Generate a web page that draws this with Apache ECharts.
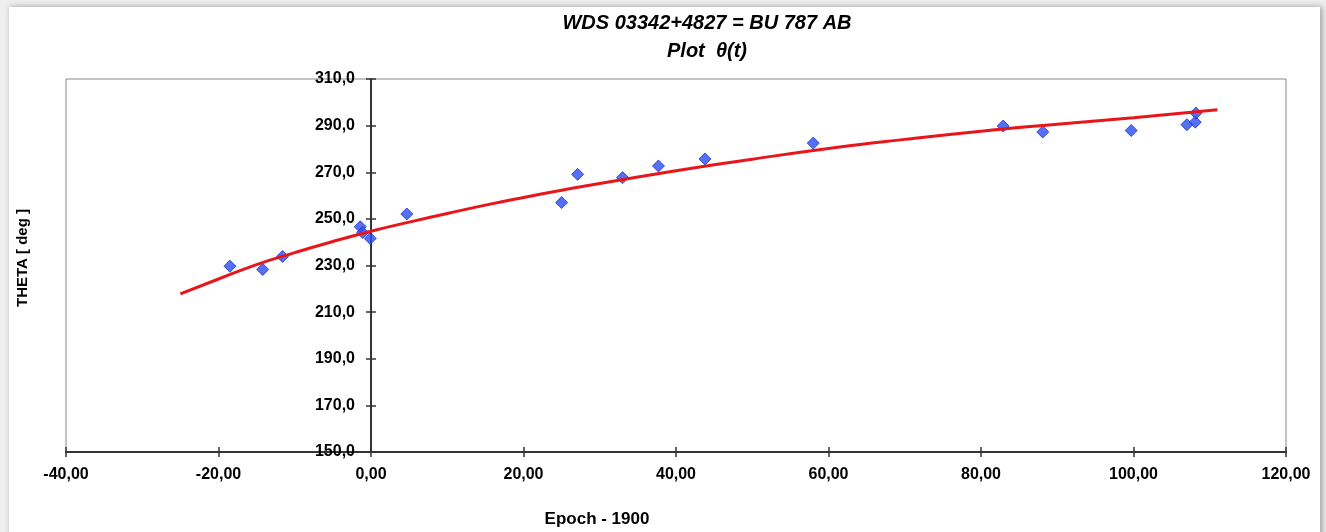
<!DOCTYPE html>
<html>
<head>
<meta charset="utf-8">
<script src="https://cdn.jsdelivr.net/npm/echarts@6/dist/echarts.min.js"></script>
<style>
  html, body { margin: 0; padding: 0; background: #fff; }
  #main { width: 1326px; height: 532px; }
</style>
</head>
<body>
<div id="main"></div>
<script>
// observed position angles (epoch - 1900, theta in deg)
const obsEpoch = [-18.5, -14.2, -11.6, -1.4, -1.1, -0.1, 4.7, 25.0, 27.1, 33.0, 37.7, 43.8, 58.0, 82.9, 88.1, 99.7, 107.0, 108.1, 108.2];
const obsTheta = [229.7, 228.3, 233.9, 246.6, 244.2, 241.6, 252.1, 257.0, 269.1, 267.7, 272.7, 275.7, 282.5, 289.8, 287.3, 287.9, 290.4, 291.5, 295.4];

// orbit curve
const fitEpoch = [-25, -20, -15, -10, -5, 0, 5, 10, 15, 20, 25, 30, 40, 50, 60, 70, 80, 90, 100, 111];
const fitTheta = [217.8, 224.2, 230.4, 235.5, 240.3, 244.7, 248.6, 252.3, 255.9, 259.2, 262.3, 265.2, 270.6, 275.6, 280.2, 284.1, 287.6, 290.6, 293.4, 296.8];

// axis ticks
const xTicks = [-40, -20, 0, 20, 40, 60, 80, 100, 120];
const yTicks = [150, 170, 190, 210, 230, 250, 270, 290, 310];

const chart = echarts.init(document.getElementById('main'));

const obsData = obsEpoch.map((x, i) => [x, obsTheta[i]]);
const fitData = fitEpoch.map((x, i) => [x, fitTheta[i]]);

const font = '"Liberation Sans", Arial, sans-serif';
const axisColor = '#333';

function xAxisBase() {
    return {
        type: 'value',
        min: xTicks[0],
        max: xTicks[xTicks.length - 1],
        interval: xTicks[1] - xTicks[0],
        splitLine: { show: false }
    };
}
function yAxisBase() {
    return {
        type: 'value',
        min: yTicks[0],
        max: yTicks[yTicks.length - 1],
        interval: yTicks[1] - yTicks[0],
        splitLine: { show: false }
    };
}

chart.setOption({
    backgroundColor: '#eeeeee',
    animation: false,
    graphic: [{
        type: 'rect',
        z: -10,
        shape: { x: 9, y: 7, width: 1311, height: 600 },
        style: { fill: '#fff', shadowBlur: 6, shadowOffsetX: 2, shadowColor: 'rgba(0,0,0,0.35)' }
    }],
    title: {
        text: 'WDS 03342+4827 = BU 787 AB\nPlot  θ(t)',
        left: 707,
        top: 9,
        padding: 0,
        textAlign: 'center',
        textStyle: {
            fontFamily: font,
            fontSize: 20,
            fontWeight: 'bold',
            fontStyle: 'italic',
            color: '#000',
            lineHeight: 28
        }
    },
    grid: {
        left: 66,
        right: 40,
        top: 79,
        bottom: 80,
        containLabel: false,
        outerBoundsMode: 'none',
        show: true,
        borderColor: '#888',
        borderWidth: 1,
        backgroundColor: 'transparent'
    },
    xAxis: [
        Object.assign(xAxisBase(), {
            position: 'bottom',
            name: 'Epoch - 1900',
            nameLocation: 'middle',
            nameGap: 59,
            nameTextStyle: {
                fontFamily: font, fontSize: 17, fontWeight: 'bold', color: '#000',
                padding: [0, 158, 0, 0]
            },
            axisLine: { lineStyle: { color: axisColor, width: 2 } },
            axisTick: { length: 5, lineStyle: { color: axisColor, width: 1.5 } },
            axisLabel: {
                margin: 15,
                fontFamily: font, fontSize: 16, fontWeight: 'bold', color: '#000',
                formatter: v => v.toFixed(2).replace('.', ',')
            }
        }),
        // second copy only to draw the inner half of the crossing ticks
        Object.assign(xAxisBase(), {
            position: 'bottom',
            axisLine: { show: false },
            axisTick: { inside: true, length: 5, lineStyle: { color: axisColor, width: 1.5 } },
            axisLabel: { show: false }
        })
    ],
    yAxis: [
        Object.assign(yAxisBase(), {
            position: 'left',
            name: 'THETA [ deg ]',
            nameLocation: 'middle',
            nameGap: 36,
            nameTextStyle: {
                fontFamily: font, fontSize: 15, fontWeight: 'bold', color: '#000',
                padding: [0, 0, 0, 15]
            },
            axisLine: { onZero: true, onZeroAxisIndex: 0, lineStyle: { color: axisColor, width: 2 } },
            axisTick: { length: 5, lineStyle: { color: axisColor, width: 1.5 } },
            axisLabel: {
                // labels sit next to the zero line, not at the grid edge
                margin: -289,
                fontFamily: font, fontSize: 16, fontWeight: 'bold', color: '#000',
                formatter: v => v.toFixed(1).replace('.', ',')
            }
        }),
        Object.assign(yAxisBase(), {
            position: 'left',
            axisLine: { show: true, onZero: true, onZeroAxisIndex: 1, lineStyle: { color: 'rgba(0,0,0,0)' } },
            axisTick: { inside: true, length: 5, lineStyle: { color: axisColor, width: 1.5 } },
            axisLabel: { show: false }
        })
    ],
    series: [
        {
            name: 'orbit',
            type: 'line',
            data: fitData,
            smooth: true,
            showSymbol: false,
            lineStyle: { color: '#e8161b', width: 3 }
        },
        {
            name: 'observations',
            type: 'scatter',
            data: obsData,
            symbol: 'diamond',
            symbolSize: 12,
            itemStyle: { color: '#2b4cf2', borderColor: '#1c35c8', borderWidth: 1 }
        }
    ]
});
</script>
</body>
</html>
